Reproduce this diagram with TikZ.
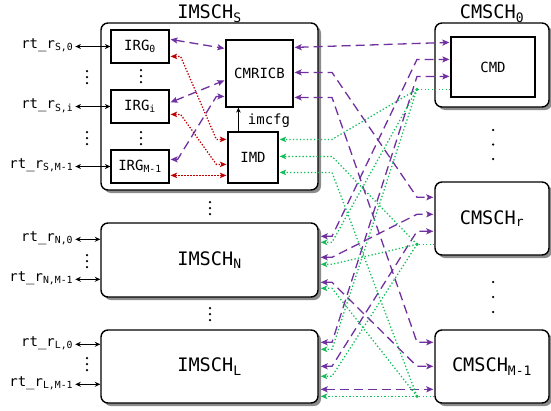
\documentclass[tikz,border=0pt]{standalone}
\usepackage{fontspec}
\setmonofont{DejaVu Sans Mono}
\usetikzlibrary{arrows.meta,calc,shadows}

\definecolor{buspurple}{RGB}{112,48,160}
\definecolor{ctlgreen}{RGB}{20,190,90}
\definecolor{rdyred}{RGB}{192,0,0}

\tikzset{
  smalltxt/.style={font=\ttfamily\fontsize{14}{16}\selectfont},
  bigtxt/.style={font=\ttfamily\fontsize{18.6}{22}\selectfont},
  block/.style={draw=black, line width=1.2pt, fill=white, smalltxt, inner sep=0pt},
  sched/.style={draw=black, line width=1.4pt, fill=white, rounded corners=7pt, bigtxt, inner sep=0pt,
    drop shadow={shadow xshift=3pt, shadow yshift=-3pt, fill=black!45, opacity=1}},
  port/.style={black, line width=0.9pt, <->, >={Stealth[length=5.5pt,width=5pt]}},
  bus/.style={buspurple, line width=1.3pt, dash pattern=on 9pt off 5pt, <->,
    >={Stealth[length=7pt,width=6pt,inset=1.5pt]}},
  ctlfeed/.style={ctlgreen, line width=1.3pt, dash pattern=on 1.3pt off 2.2pt},
  ctl/.style={ctlfeed, ->, >={Stealth[length=6.5pt,width=5.5pt,inset=1.5pt]}},
  rdy/.style={rdyred, line width=1.3pt, dash pattern=on 1.3pt off 1.7pt, <->,
    >={Stealth[length=6.5pt,width=5.5pt,inset=1.5pt]}},
  vdots/.style={line width=2.5pt, line cap=round, dash pattern=on 0pt off 6pt}
}

\begin{document}
\begin{tikzpicture}[x=1pt,y=-1pt]
\useasboundingbox (0,0) rectangle (551,410);

%% IMSCH S
\node[sched, minimum width=217pt, minimum height=167pt] (imschS) at (209.5,106.5) {};
\node[bigtxt, anchor=base] (imschStitle) at ($(imschS.north)+(0,-4)$) {IMSCH\textsubscript{S}};

\node[block, minimum width=58pt, minimum height=33pt] (irg0) at (140,46.5) {IRG\textsubscript{0}};
\node[block, minimum width=58pt, minimum height=33pt] (irgi) at (140,106.5) {IRG\textsubscript{i}};
\node[block, minimum width=58pt, minimum height=33pt] (irgm) at (140,166.5) {IRG\textsubscript{M-1}};
\node[block, minimum width=67pt, minimum height=67pt] (cmricb) at (259.5,73.5) {CMRICB};
\node[block, minimum width=50pt, minimum height=51pt] (imd) at (253,157.5) {IMD};

%imcfg
\coordinate (cfg) at ($(imd.north west)+(11,0)$);
\draw[black, line width=0.8pt, -{Stealth[length=5pt,width=4.5pt]}] (cfg) -- (cfg |- cmricb.south);
\node[smalltxt, anchor=west] (imcfg) at ($(cfg)+(6,-11)$) {imcfg};

%% IMSCH N, IMSCH L
\node[sched, minimum width=217pt, minimum height=74pt] (imschN) at (209.5,260) {IMSCH\textsubscript{N}};
\node[sched, minimum width=217pt, minimum height=73pt] (imschL) at (209.5,366.5) {IMSCH\textsubscript{L}};

%% CMSCH
\node[sched, minimum width=114pt, minimum height=84pt] (cmsch0) at (492,65) {};
\node[bigtxt, anchor=base] (cmsch0title) at ($(cmsch0.north)+(0,-4)$) {CMSCH\textsubscript{0}};
\node[block, minimum width=84pt, minimum height=60pt] (cmd) at (493,67) {CMD};
\node[sched, minimum width=114pt, minimum height=73pt] (cmschR) at (492,218.5) {CMSCH\textsubscript{r}};
\node[sched, minimum width=114pt, minimum height=73pt] (cmschM) at (492,366.5) {CMSCH\textsubscript{M-1}};

%% dots
\draw[vdots] (87,71) -- (87,83.5);
\draw[vdots] (87,132) -- (87,144.5);
\draw[vdots] (141,70) -- (141,82.5);
\draw[vdots] (141,132) -- (141,144.5);
\draw[vdots] (87,255) -- (87,267.5);
\draw[vdots] (87,358) -- (87,370.5);
\draw[vdots] (210,202) -- (210,214.5);
\draw[vdots] (210,308) -- (210,320.5);
\draw[vdots, dash pattern=on 0pt off 14.5pt] (493,130) -- (493,160);
\draw[vdots, dash pattern=on 0pt off 15pt] (493,282) -- (493,313);

%% rt_r ports
\node[smalltxt, anchor=mid east, inner sep=2pt] (rtS0) at ($(irg0.west)+(-35,0)$) {rt\_r\textsubscript{S,0}};
\node[smalltxt, anchor=mid east, inner sep=2pt] (rtSi) at ($(irgi.west)+(-35,0)$) {rt\_r\textsubscript{S,i}};
\node[smalltxt, anchor=mid east, inner sep=2pt] (rtSm) at ($(irgm.west)+(-35,0)$) {rt\_r\textsubscript{S,M-1}};
\draw[port] (rtS0.mid east) -- (irg0.west);
\draw[port] (rtSi.mid east) -- (irgi.west);
\draw[port] (rtSm.mid east) -- (irgm.west);

\node[smalltxt, anchor=mid east, inner sep=2pt] (rtN0) at ($(imschN.north west)+(-25,17)$) {rt\_r\textsubscript{N,0}};
\node[smalltxt, anchor=mid east, inner sep=2pt] (rtNm) at ($(imschN.north west)+(-25,57)$) {rt\_r\textsubscript{N,M-1}};
\node[smalltxt, anchor=mid east, inner sep=2pt] (rtL0) at ($(imschL.north west)+(-25,15)$) {rt\_r\textsubscript{L,0}};
\node[smalltxt, anchor=mid east, inner sep=2pt] (rtLm) at ($(imschL.north west)+(-25,55)$) {rt\_r\textsubscript{L,M-1}};
\draw[port] (rtN0.mid east) -- (rtN0.mid east -| imschN.west);
\draw[port] (rtNm.mid east) -- (rtNm.mid east -| imschN.west);
\draw[port] (rtL0.mid east) -- (rtL0.mid east -| imschL.west);
\draw[port] (rtLm.mid east) -- (rtLm.mid east -| imschL.west);

%% pins
\coordinate (irg0p) at ($(irg0.north east)+(1,10)$);
\coordinate (irg0r) at ($(irg0.north east)+(1,27)$);
\coordinate (irgip) at ($(irgi.north east)+(1,13)$);
\coordinate (irgir) at ($(irgi.north east)+(1,25)$);
\coordinate (irgmp) at ($(irgm.north east)+(1,10)$);
\coordinate (irgmr) at ($(irgm.north east)+(1,26)$);

\coordinate (cbl0) at ($(cmricb.north west)+(-1,9)$);
\coordinate (cbl1) at ($(cmricb.north west)+(-1,41)$);
\coordinate (cbl2) at ($(cmricb.north west)+(-1,57)$);
\coordinate (cbr0) at ($(cmricb.north east)+(1,8)$);
\coordinate (cbr1) at ($(cmricb.north east)+(1,33)$);
\coordinate (cbr2) at ($(cmricb.north east)+(1,58)$);

\coordinate (il0) at ($(imd.north west)+(-1,8)$);
\coordinate (il1) at ($(imd.north west)+(-1,33)$);
\coordinate (il2) at ($(imd.north west)+(-1,44)$);
\coordinate (ig0) at ($(imd.north east)+(1,8)$);
\coordinate (ig1) at ($(imd.north east)+(1,25)$);
\coordinate (ig2) at ($(imd.north east)+(1,41)$);

\coordinate (np0) at ($(imschN.north east)+(2,14)$);
\coordinate (np1) at ($(imschN.north east)+(2,35)$);
\coordinate (np2) at ($(imschN.north east)+(2,60)$);
\coordinate (ng0) at ($(imschN.north east)+(2,20)$);
\coordinate (ng1) at ($(imschN.north east)+(2,42)$);
\coordinate (ng2) at ($(imschN.north east)+(2,66)$);

\coordinate (lp0) at ($(imschL.north east)+(2,13)$);
\coordinate (lp1) at ($(imschL.north east)+(2,37)$);
\coordinate (lp2) at ($(imschL.north east)+(2,60)$);
\coordinate (lg0) at ($(imschL.north east)+(2,20)$);
\coordinate (lg1) at ($(imschL.north east)+(2,47)$);
\coordinate (lg2) at ($(imschL.north east)+(2,67)$);

\coordinate (mp0) at ($(cmd.north west)+(-1,6)$);
\coordinate (mp1) at ($(cmd.north west)+(-1,23)$);
\coordinate (mp2) at ($(cmd.north west)+(-1,40)$);
\coordinate (mg) at ($(cmd.north west)+(0,53)$);

\coordinate (rp0) at ($(cmschR.north west)+(-1,16)$);
\coordinate (rp1) at ($(cmschR.north west)+(-1,33)$);
\coordinate (rp2) at ($(cmschR.north west)+(-1,50)$);
\coordinate (rg) at ($(cmschR.north west)+(0,63)$);

\coordinate (cp0) at ($(cmschM.north west)+(-1,13)$);
\coordinate (cp1) at ($(cmschM.north west)+(-1,37)$);
\coordinate (cp2) at ($(cmschM.north west)+(-1,60)$);
\coordinate (cg) at ($(cmschM.north west)+(0,67)$);

\coordinate (lb) at (332,0);
\coordinate (rb) at (417,0);
\coordinate (j0) at (mg -| rb);
\coordinate (j1) at (rg -| rb);
\coordinate (j2) at (cg -| rb);

%% inside IMSCH S
\draw[bus] (irg0p) -- (cbl0);
\draw[bus] (irgip) -- (cbl1);
\draw[bus] (irgmp) -- ++(7,0) -- ([xshift=-8pt]cbl2) -- (cbl2);
\draw[rdy] (irg0r) -- ++(10,0) -- ([xshift=-10pt]il0) -- (il0);
\draw[rdy] (irgir) -- ++(10,0) -- ([xshift=-10pt]il1) -- (il1);
\draw[rdy] (irgmr) -- (il2);

%% IMSCH <-> CMSCH
\draw[bus] (cbr0) -- (mp0);
\draw[bus] (cbr1) -- (cbr1 -| lb) -- (rp0 -| rb) -- (rp0);
\draw[bus] (cbr2) -- (cbr2 -| lb) -- (cp0 -| rb) -- (cp0);
\draw[bus] (np0) -- (np0 -| lb) -- (mp1 -| rb) -- (mp1);
\draw[bus] (np1) -- (np1 -| lb) -- (rp1 -| rb) -- (rp1);
\draw[bus] (np2) -- (np2 -| lb) -- (cp1 -| rb) -- (cp1);
\draw[bus] (lp0) -- (lp0 -| lb) -- (mp2 -| rb) -- (mp2);
\draw[bus] (lp1) -- (lp1 -| lb) -- (rp2 -| rb) -- (rp2);
\draw[bus] (lp2) -- (cp2);

%% CMSCH -> IMSCH
\draw[ctlfeed] (mg) -- (j0);
\draw[ctlfeed] (rg) -- (j1);
\draw[ctlfeed] (cg) -- (j2);
\draw[ctl] (j0) -- (ig0 -| lb) -- (ig0);
\draw[ctl] (j0) -- (ng0 -| lb) -- (ng0);
\draw[ctl] (j0) -- (lg0 -| lb) -- (lg0);
\draw[ctl] (j1) -- (ig1 -| lb) -- (ig1);
\draw[ctl] (j1) -- (ng1 -| lb) -- (ng1);
\draw[ctl] (j1) -- (lg1 -| lb) -- (lg1);
\draw[ctl] (j2) -- (ig2 -| lb) -- (ig2);
\draw[ctl] (j2) -- (ng2 -| lb) -- (ng2);
\draw[ctl] (j2) -- (lg2);
\fill[ctlgreen] (j0) circle (1.8pt);
\fill[ctlgreen] (j1) circle (1.8pt);
\fill[ctlgreen] (j2) circle (1.8pt);

\end{tikzpicture}
\end{document}
